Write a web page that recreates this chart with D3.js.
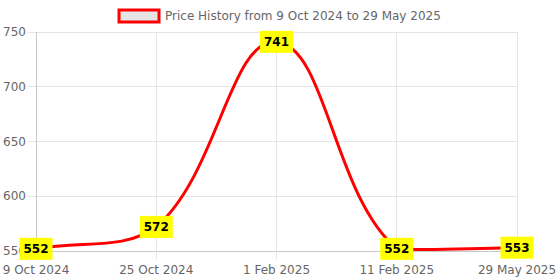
<!DOCTYPE html>
<html>
<head>
<meta charset="utf-8">
<script src="https://cdn.jsdelivr.net/npm/d3@7"></script>
<style>
  body { margin: 0; background: #fff; }
  text { font-family: "DejaVu Sans", sans-serif; }
</style>
</head>
<body>
<svg id="chart" width="560" height="280"></svg>
<script>
var dates = ["9 Oct 2024", "25 Oct 2024", "1 Feb 2025", "11 Feb 2025", "29 May 2025"];
var prices = [552, 572, 741, 552, 553];
var yTicks = [550, 600, 650, 700, 750];
var legendLabel = "Price History from 9 Oct 2024 to 29 May 2025";

var svg = d3.select("#chart");

// chart area
var areaLeft = 36, areaRight = 517, areaTop = 32, areaBottom = 251;

var xScale = d3.scalePoint().domain(dates).range([areaLeft, areaRight]);
var yScale = d3.scaleLinear().domain([550, 750]).range([areaBottom, areaTop]);

// horizontal grid lines + y ticks
svg.selectAll(".hgrid").data(yTicks).enter().append("line")
    .attr("x1", areaLeft - 8)
    .attr("x2", areaRight)
    .attr("y1", d => yScale(d))
    .attr("y2", d => yScale(d))
    .attr("stroke", (d, i) => i == 0 ? "#c8c8c8" : "#e5e5e5")
    .attr("stroke-width", 1)
    .attr("shape-rendering", "crispEdges");

svg.selectAll(".ylab").data(yTicks).enter().append("text")
    .attr("x", 26)
    .attr("y", d => yScale(d))
    .attr("dy", "0.35em")
    .attr("text-anchor", "end")
    .attr("font-size", "12px")
    .attr("fill", "#666")
    .text(d => d);

// vertical grid lines + x ticks
svg.selectAll(".vgrid").data(dates).enter().append("line")
    .attr("x1", d => xScale(d))
    .attr("x2", d => xScale(d))
    .attr("y1", areaTop)
    .attr("y2", areaBottom + 8)
    .attr("stroke", (d, i) => i == 0 ? "#c8c8c8" : "#e5e5e5")
    .attr("stroke-width", 1)
    .attr("shape-rendering", "crispEdges");

svg.selectAll(".xlab").data(dates).enter().append("text")
    .attr("x", d => xScale(d))
    .attr("y", 274)
    .attr("text-anchor", "middle")
    .attr("font-size", "12px")
    .attr("fill", "#666")
    .text(d => d);

// spline like chart.js (tension 0.4, capped to chart area)
var pts = prices.map((p, i) => [xScale(dates[i]), yScale(p)]);
var tension = 0.4;
var cps = pts.map(function(p, i) {
    var prev = pts[i - 1] || p, next = pts[i + 1] || p;
    var d01 = Math.hypot(p[0] - prev[0], p[1] - prev[1]);
    var d12 = Math.hypot(next[0] - p[0], next[1] - p[1]);
    var s01 = d01 / (d01 + d12), s12 = d12 / (d01 + d12);
    if (isNaN(s01)) s01 = 0;
    if (isNaN(s12)) s12 = 0;
    var fa = tension * s01, fb = tension * s12;
    var cap = c => [Math.max(areaLeft, Math.min(areaRight, c[0])), Math.max(areaTop, Math.min(areaBottom, c[1]))];
    return {
        prev: cap([p[0] - fa * (next[0] - prev[0]), p[1] - fa * (next[1] - prev[1])]),
        next: cap([p[0] + fb * (next[0] - prev[0]), p[1] + fb * (next[1] - prev[1])])
    };
});

var path = d3.path();
path.moveTo(pts[0][0], pts[0][1]);
for (var i = 1; i < pts.length; i++) {
    path.bezierCurveTo(cps[i - 1].next[0], cps[i - 1].next[1], cps[i].prev[0], cps[i].prev[1], pts[i][0], pts[i][1]);
}

svg.append("path")
    .attr("d", path.toString())
    .attr("fill", "none")
    .attr("stroke", "#ff0000")
    .attr("stroke-width", 3);

// value labels
var labels = svg.selectAll(".vlab").data(prices).enter().append("g")
    .attr("transform", (d, i) => "translate(" + xScale(dates[i]) + "," + yScale(d) + ")");

labels.append("rect")
    .attr("x", -16.5)
    .attr("y", -11)
    .attr("width", 33)
    .attr("height", 22)
    .attr("fill", "#ffff00");

labels.append("text")
    .attr("text-anchor", "middle")
    .attr("dy", "0.37em")
    .attr("font-size", "12px")
    .attr("font-weight", "bold")
    .attr("fill", "#000")
    .text(d => d);

// legend
svg.append("rect")
    .attr("x", 119)
    .attr("y", 10)
    .attr("width", 40)
    .attr("height", 12)
    .attr("fill", "#e6e6e6")
    .attr("stroke", "#ff0000")
    .attr("stroke-width", 3);

svg.append("text")
    .attr("x", 165)
    .attr("y", 16)
    .attr("dy", "0.35em")
    .attr("font-size", "12px")
    .attr("fill", "#666")
    .text(legendLabel);
</script>
</body>
</html>
